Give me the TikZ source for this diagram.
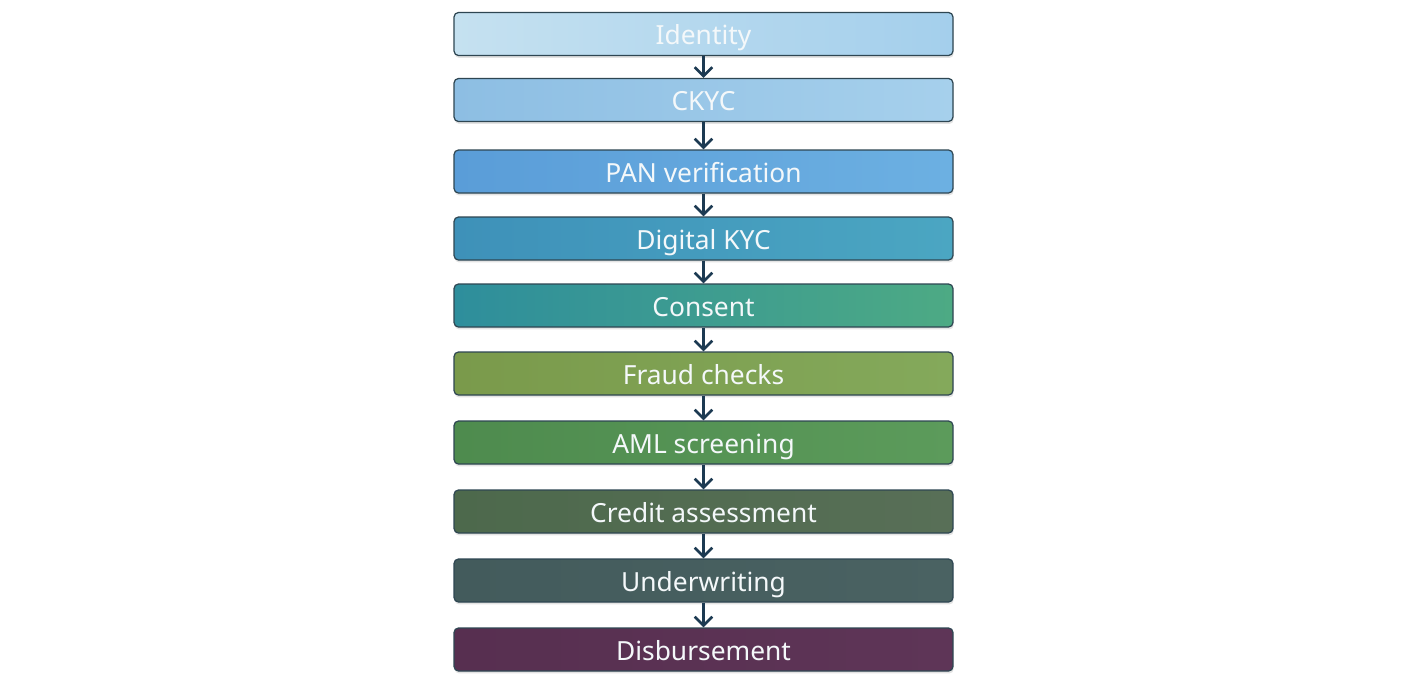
\documentclass[tikz,border=0pt]{standalone}
\usepackage{fontspec}
\setmainfont{Noto Sans}
\usepackage{tikz}
\usetikzlibrary{arrows.meta,shadows}
\definecolor{edgec}{HTML}{2E4652}
\definecolor{arrowc}{HTML}{1C3A52}
\definecolor{labelc}{HTML}{F4F8FA}
\definecolor{idL}{HTML}{C5E1F0}\definecolor{idR}{HTML}{A4CFEC}
\definecolor{ckL}{HTML}{8DBEE3}\definecolor{ckR}{HTML}{A6D0EC}
\definecolor{paL}{HTML}{5A9DD8}\definecolor{paR}{HTML}{6CB0E2}
\definecolor{dkL}{HTML}{3E91B9}\definecolor{dkR}{HTML}{4BA6C2}
\definecolor{coL}{HTML}{2E8E9C}\definecolor{coR}{HTML}{4DAA84}
\definecolor{frL}{HTML}{7A9A4B}\definecolor{frR}{HTML}{84A95B}
\definecolor{amL}{HTML}{4E8B4E}\definecolor{amR}{HTML}{5C9B5B}
\definecolor{crL}{HTML}{4D694C}\definecolor{crR}{HTML}{586F57}
\definecolor{uwL}{HTML}{435B5C}\definecolor{uwR}{HTML}{4A6262}
\definecolor{dbL}{HTML}{572F50}\definecolor{dbR}{HTML}{5E3557}
\tikzset{stage/.style={draw=edgec, line width=0.7pt, rounded corners=2.5pt,
    left color=#1L, right color=#1R, minimum width=9.98cm, minimum height=0.86cm,
    text=labelc, font=\fontsize{15}{17}\selectfont, text height=12pt, text depth=0pt,
    drop shadow={opacity=0.22, shadow xshift=0.4pt, shadow yshift=-1.4pt}},
  flow/.style={-{Straight Barb[length=5pt, width=10pt, line width=1.5pt]}, line width=1.5pt, draw=arrowc}}

\begin{document}
\begin{tikzpicture}[x=0.02cm, y=-0.02cm]
    \useasboundingbox [fill=white] (0,0) rectangle (1408,687);
    \node [stage=id] (id) at (703.5,34) {Identity};
    \node [stage=ck] (ckyc) at (703.5,100) {CKYC};
    \node [stage=pa] (pan) at (703.5,171.5) {PAN verification};
    \node [stage=dk] (dkyc) at (703.5,238.5) {Digital KYC};
    \node [stage=co] (consent) at (703.5,305.5) {Consent};
    \node [stage=fr] (fraud) at (703.5,373.5) {Fraud checks};
    \node [stage=am] (aml) at (703.5,442.5) {AML screening};
    \node [stage=cr] (credit) at (703.5,511.5) {Credit assessment};
    \node [stage=uw] (uw) at (703.5,580.5) {Underwriting};
    \node [stage=db] (disb) at (703.5,649.5) {Disbursement};
    \draw [flow] (id) -- (ckyc);
    \draw [flow] (ckyc) -- (pan);
    \draw [flow] (pan) -- (dkyc);
    \draw [flow] (dkyc) -- (consent);
    \draw [flow] (consent) -- (fraud);
    \draw [flow] (fraud) -- (aml);
    \draw [flow] (aml) -- (credit);
    \draw [flow] (credit) -- (uw);
    \draw [flow] (uw) -- (disb);
\end{tikzpicture}
\end{document}
